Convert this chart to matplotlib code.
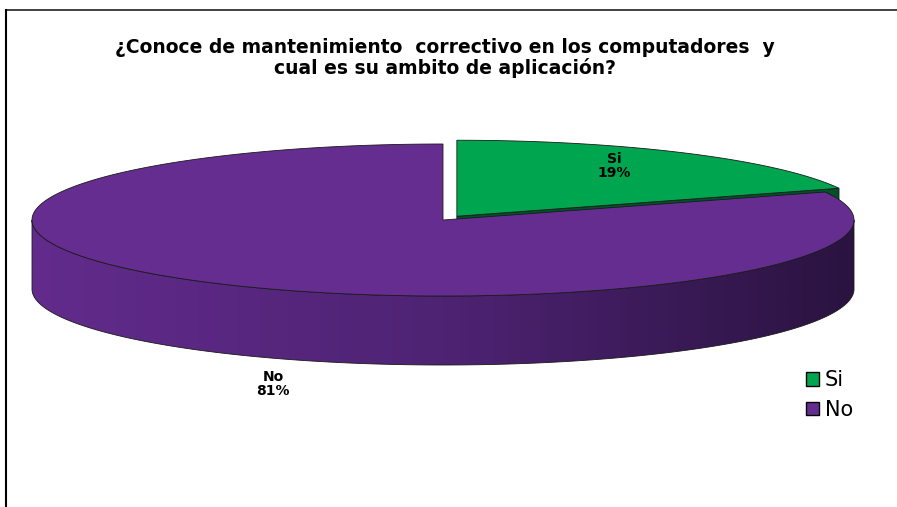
import numpy as np
import matplotlib

matplotlib.use("Agg")
import matplotlib.pyplot as plt  # noqa: E402
from matplotlib.patches import Polygon, Patch  # noqa: E402
from matplotlib.colors import LinearSegmentedColormap  # noqa: E402

# ---------------------------------------------------------------------------
# Data
# ---------------------------------------------------------------------------
TITLE = ("¿Conoce de mantenimiento  correctivo en los computadores  y\n"
         "cual es su ambito de aplicación?")
LABELS = ["Si", "No"]
VALUES = [19, 81]
TOP_COLORS = ["#00A54F", "#662D91"]
SIDE_COLOR_SI = "#00502A"

# ---------------------------------------------------------------------------
# Geometry of the pseudo-3D pie (pixel space, y downwards)
# ---------------------------------------------------------------------------
W, H = 897, 507
CX, CY = 443, 220
RX, RY = 411, 76
DEPTH = 69
EXPLODE = [0.06, 0.0]

plt.rcParams["font.family"] = ["DejaVu Sans"]

fig = plt.figure(figsize=(W / 100, H / 100), dpi=100)
ax = fig.add_axes([0, 0, 1, 1])
ax.set_xlim(0, W)
ax.set_ylim(H, 0)
ax.axis("off")


def pt(theta_deg, cx, cy, dz=0.0):
    t = np.radians(theta_deg)
    return cx + RX * np.cos(t), cy - RY * np.sin(t) + dz


# slice angles: start at 12 o'clock, go clockwise
total = float(sum(VALUES))
spans = [v / total * 360.0 for v in VALUES]
starts = []
a = 90.0
for s in spans:
    starts.append(a)
    a -= s

centers = []
for i, s in enumerate(spans):
    mid = np.radians(starts[i] - s / 2)
    centers.append((CX + EXPLODE[i] * RX * np.cos(mid),
                    CY - EXPLODE[i] * RY * np.sin(mid)))

edge_kw = dict(edgecolor="#1a1a1a", linewidth=0.6)

# --- Si slice: visible cut face, then top face
si_c = centers[0]
si_end = starts[0] - spans[0]
ex, ey = pt(si_end, *si_c)
face = [(si_c[0], si_c[1]), (ex, ey), (ex, ey + DEPTH), (si_c[0], si_c[1] + DEPTH)]
ax.add_patch(Polygon(face, closed=True, facecolor=SIDE_COLOR_SI, zorder=1, **edge_kw))
th = np.linspace(starts[0], si_end, 120)
xs, ys = pt(th, *si_c)
top = np.column_stack([np.r_[si_c[0], xs], np.r_[si_c[1], ys]])
ax.add_patch(Polygon(top, closed=True, facecolor=TOP_COLORS[0], zorder=2, **edge_kw))

# --- No slice: front wall with horizontal gradient, then top face
no_c = centers[1]
side_cmap = LinearSegmentedColormap.from_list(
    "side", [(0.0, "#622B8C"), (0.5, "#4E2373"), (1.0, "#2A1340")])
th = np.linspace(180, 360, 300)
tx, ty = pt(th, *no_c)
bx, by = pt(th[::-1], *no_c, dz=DEPTH)
wall = Polygon(np.column_stack([np.r_[tx, bx], np.r_[ty, by]]), closed=True,
               facecolor="none", zorder=4, **edge_kw)
ax.add_patch(wall)
grad = np.linspace(0, 1, 512)[None, :]
img = ax.imshow(grad, cmap=side_cmap, aspect="auto", interpolation="bilinear",
                extent=(no_c[0] - RX, no_c[0] + RX, no_c[1] + RY + DEPTH, no_c[1] - RY),
                zorder=3)
img.set_clip_path(wall)
ax.set_xlim(0, W)
ax.set_ylim(H, 0)

th = np.linspace(starts[1], starts[1] - spans[1], 400)
xs, ys = pt(th, *no_c)
top = np.column_stack([np.r_[no_c[0], xs], np.r_[no_c[1], ys]])
ax.add_patch(Polygon(top, closed=True, facecolor=TOP_COLORS[1], zorder=5, **edge_kw))

# --- data labels
ax.text(614, 166, f"{LABELS[0]}\n{VALUES[0]}%", ha="center", va="center",
        fontsize=10, fontweight="bold", linespacing=0.95, zorder=6)
ax.text(273, 384, f"{LABELS[1]}\n{VALUES[1]}%", ha="center", va="center",
        fontsize=10, fontweight="bold", linespacing=0.95, zorder=6)

# --- title
ax.text(445, 58, TITLE, ha="center", va="center", fontsize=13.5,
        fontweight="bold", linespacing=1.1)

# --- frame lines (top and left only, as in the source)
ax.plot([6, W], [10, 10], color="#333333", lw=1.3)
ax.plot([6, 6], [10, H], color="black", lw=1.5)

# --- legend
handles = [Patch(facecolor=c, edgecolor="black", linewidth=1.0) for c in TOP_COLORS]
leg = ax.legend(handles, LABELS, loc="upper left",
                bbox_to_anchor=(798 / W, 1 - 362 / H), frameon=False,
                fontsize=15, handlelength=0.6, handleheight=0.6,
                handletextpad=0.3, labelspacing=0.45, borderaxespad=0)

fig.savefig("out.png", dpi=100)
